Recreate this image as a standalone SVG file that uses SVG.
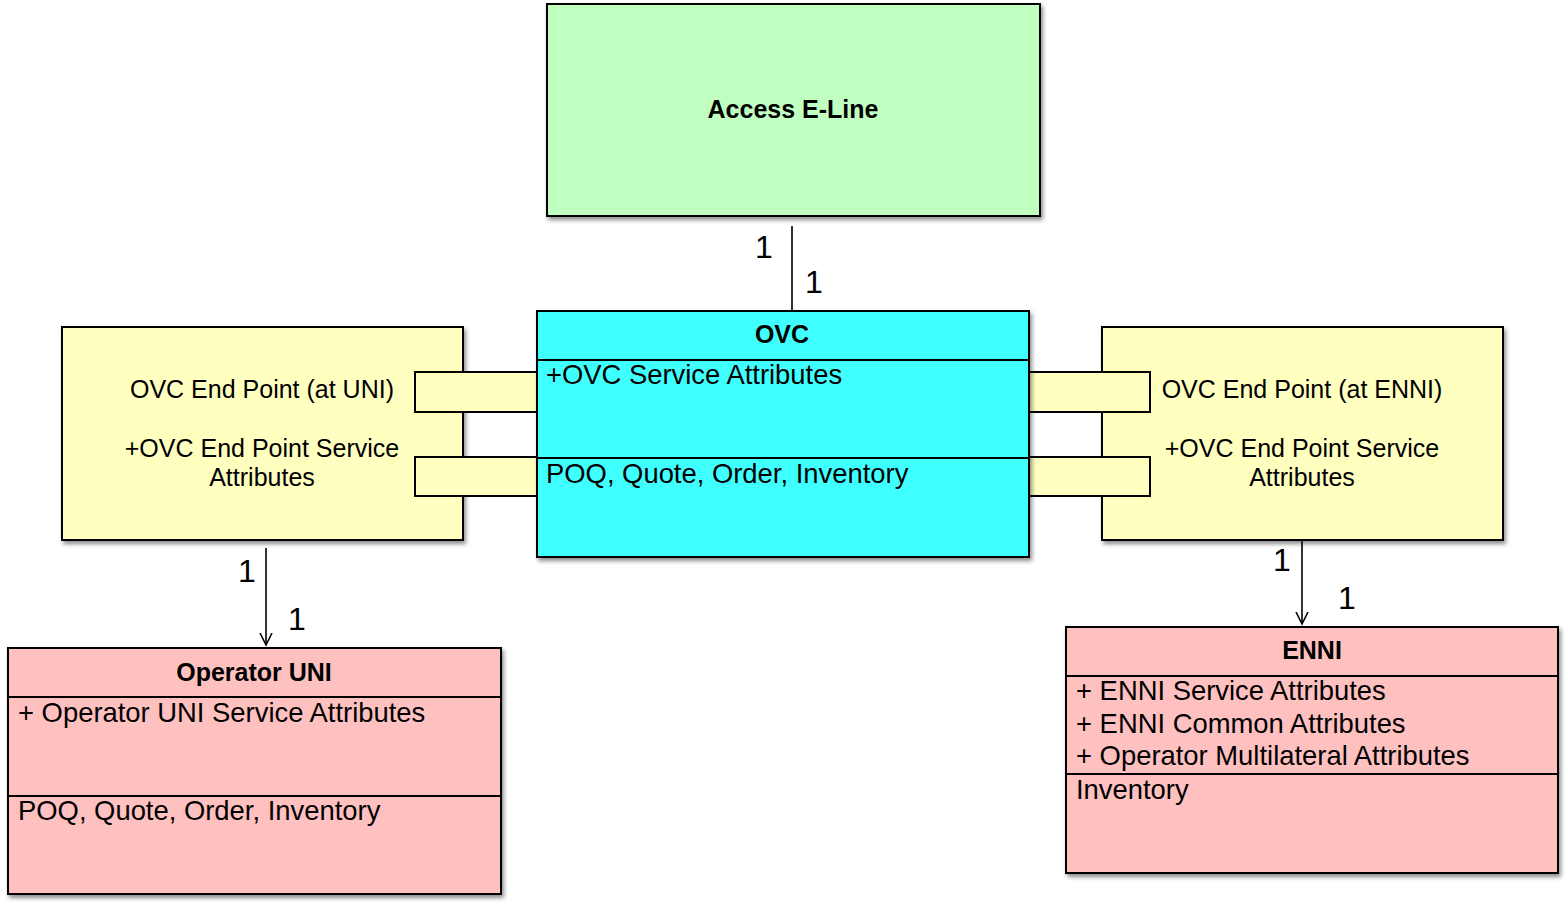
<svg xmlns="http://www.w3.org/2000/svg" width="1566" height="906" viewBox="0 0 1566 906">
<style>
text{font-family:"Liberation Sans",Arial,Helvetica,sans-serif;fill:#000}
.t{font-size:25px}
.a{font-size:27.4px}
.b{font-size:25px;font-weight:bold}
.m{font-size:32px}
.c{text-anchor:middle}
.box{stroke:#000;stroke-width:2}
.green{fill:#C0FFC0}
.cyan{fill:#40FFFF}
.yellow{fill:#FFFFC0}
.pink{fill:#FFC0C0}
.div{stroke:#000;stroke-width:2;fill:none}
.conn{stroke:#000;stroke-width:1.6;fill:none}
</style>
<defs>
<filter id="sh" x="-5%" y="-5%" width="115%" height="120%">
<feDropShadow dx="2" dy="3" stdDeviation="2" flood-color="#000" flood-opacity="0.45"/>
</filter>
<marker id="arr" markerWidth="14" markerHeight="16" refX="12" refY="7" orient="auto" markerUnits="userSpaceOnUse">
<path d="M0,1 L12,7 L0,13" fill="none" stroke="#000" stroke-width="1.6"/>
</marker>
</defs>
<rect width="1566" height="906" fill="#fff"/>

<g id="access-eline">
<rect class="box green" x="547" y="4" width="493" height="212" filter="url(#sh)"/>
<text class="b c" x="793" y="118">Access E-Line</text>
</g>

<g id="ovc-ep-uni">
<rect class="box yellow" x="62" y="327" width="401" height="213" filter="url(#sh)"/>
<rect class="box yellow" x="415" y="372" width="122" height="40"/>
<rect class="box yellow" x="415" y="457" width="122" height="39"/>
<text class="t c" x="262" y="398">OVC End Point (at UNI)</text>
<text class="t c" x="262" y="457">+OVC End Point Service</text>
<text class="t c" x="262" y="486">Attributes</text>
</g>

<g id="ovc-ep-enni">
<rect class="box yellow" x="1102" y="327" width="401" height="213" filter="url(#sh)"/>
<rect class="box yellow" x="1029" y="372" width="121" height="40"/>
<rect class="box yellow" x="1029" y="457" width="121" height="39"/>
<text class="t c" x="1302" y="398">OVC End Point (at ENNI)</text>
<text class="t c" x="1302" y="457">+OVC End Point Service</text>
<text class="t c" x="1302" y="486">Attributes</text>
</g>

<g id="ovc">
<rect class="box cyan" x="537" y="311" width="492" height="246" filter="url(#sh)"/>
<line class="div" x1="537" y1="360" x2="1029" y2="360"/>
<line class="div" x1="537" y1="458" x2="1029" y2="458"/>
<text class="b c" x="782" y="343">OVC</text>
<text class="a" x="546" y="384">+OVC Service Attributes</text>
<text class="a" x="546" y="483">POQ, Quote, Order, Inventory</text>
</g>

<g id="operator-uni">
<rect class="box pink" x="8" y="648" width="493" height="246" filter="url(#sh)"/>
<line class="div" x1="8" y1="697" x2="501" y2="697"/>
<line class="div" x1="8" y1="796" x2="501" y2="796"/>
<text class="b c" x="254" y="681">Operator UNI</text>
<text class="a" x="18" y="722">+ Operator UNI Service Attributes</text>
<text class="a" x="18" y="820">POQ, Quote, Order, Inventory</text>
</g>

<g id="enni">
<rect class="box pink" x="1066" y="627" width="492" height="246" filter="url(#sh)"/>
<line class="div" x1="1066" y1="676" x2="1558" y2="676"/>
<line class="div" x1="1066" y1="774" x2="1558" y2="774"/>
<text class="b c" x="1312" y="659">ENNI</text>
<text class="a" x="1076" y="700">+ ENNI Service Attributes</text>
<text class="a" x="1076" y="733">+ ENNI Common Attributes</text>
<text class="a" x="1076" y="765">+ Operator Multilateral Attributes</text>
<text class="a" x="1076" y="799">Inventory</text>
</g>

<g id="connectors">
<line class="conn" x1="792" y1="226" x2="792" y2="311"/>
<line class="conn" x1="266" y1="548" x2="266" y2="645" marker-end="url(#arr)"/>
<line class="conn" x1="1302" y1="541" x2="1302" y2="624" marker-end="url(#arr)"/>
<text class="m" x="755" y="258">1</text>
<text class="m" x="805" y="293">1</text>
<text class="m" x="238" y="582">1</text>
<text class="m" x="288" y="630">1</text>
<text class="m" x="1273" y="571">1</text>
<text class="m" x="1338" y="609">1</text>
</g>
</svg>
